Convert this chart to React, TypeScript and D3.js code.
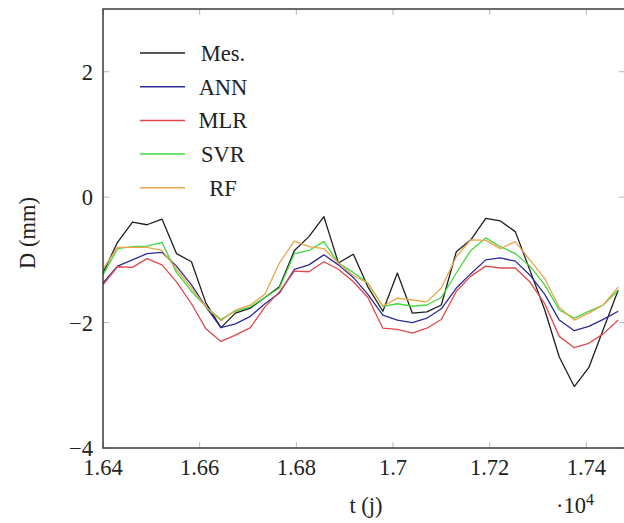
import React from "react";
import * as d3 from "d3";

const tDays = [16400, 16430, 16461, 16491, 16522, 16552, 16583, 16613, 16644, 16674, 16705, 16735, 16765, 16796, 16826, 16857, 16887, 16918, 16948, 16979, 17009, 17040, 17070, 17100, 17131, 17161, 17192, 17222, 17253, 17283, 17314, 17344, 17375, 17405, 17435, 17466];

const mes = [-1.21, -0.72, -0.4, -0.44, -0.35, -0.9, -1.03, -1.69, -2.08, -1.85, -1.77, -1.6, -1.43, -0.85, -0.63, -0.31, -1.05, -0.91, -1.43, -1.82, -1.21, -1.85, -1.83, -1.72, -0.87, -0.68, -0.34, -0.38, -0.55, -1.16, -1.8, -2.55, -3.02, -2.72, -2.11, -1.48];
const ann = [-1.37, -1.1, -1.0, -0.9, -0.88, -1.1, -1.4, -1.75, -2.08, -2.02, -1.9, -1.7, -1.53, -1.15, -1.08, -0.92, -1.08, -1.28, -1.55, -1.88, -1.96, -2.0, -1.93, -1.78, -1.45, -1.22, -1.0, -0.97, -1.02, -1.24, -1.55, -1.96, -2.13, -2.06, -1.95, -1.82];
const mlr = [-1.4, -1.11, -1.12, -0.98, -1.08, -1.35, -1.7, -2.1, -2.3, -2.2, -2.08, -1.75, -1.51, -1.18, -1.19, -1.03, -1.15, -1.35, -1.6, -2.09, -2.11, -2.17, -2.09, -1.95, -1.5, -1.26, -1.1, -1.13, -1.13, -1.35, -1.7, -2.22, -2.4, -2.33, -2.18, -1.96];
const svr = [-1.24, -0.82, -0.79, -0.78, -0.72, -1.2, -1.5, -1.75, -1.95, -1.82, -1.75, -1.6, -1.45, -0.9, -0.85, -0.71, -1.05, -1.2, -1.37, -1.74, -1.7, -1.74, -1.72, -1.6, -1.21, -0.85, -0.65, -0.79, -0.9, -1.1, -1.4, -1.8, -1.93, -1.82, -1.72, -1.48];
const rf = [-1.15, -0.8, -0.8, -0.8, -0.85, -1.15, -1.45, -1.75, -1.97, -1.8, -1.72, -1.55, -1.05, -0.7, -0.79, -0.82, -1.05, -1.25, -1.37, -1.74, -1.61, -1.64, -1.67, -1.45, -0.95, -0.68, -0.69, -0.82, -0.71, -1.0, -1.3, -1.76, -1.96, -1.85, -1.72, -1.43];

const seriesNames = ["Mes.", "ANN", "MLR", "SVR", "RF"];
const seriesValues = [mes, ann, mlr, svr, rf];
const seriesColors = ["#1e1e1e", "#2c2c96", "#e0484c", "#3fd83f", "#e8a54c"];

const xTicks = [1.64, 1.66, 1.68, 1.7, 1.72, 1.74];
const xTickLabels = ["1.64", "1.66", "1.68", "1.7", "1.72", "1.74"];
const yTicks = [-4, -2, 0, 2];
const yTickLabels = ["\u22124", "\u22122", "0", "2"];

const FONT = "Times New Roman, Tinos, Liberation Serif, DejaVu Serif, Noto Serif, Times, serif";

export default function App() {
  const left = 103, right = 625, top = 9, bottom = 448;
  const x = d3.scaleLinear().domain([1.64, 1.748]).range([left, right]);
  const y = d3.scaleLinear().domain([-4, 3]).range([bottom, top]);
  const line = d3
    .line<[number, number]>()
    .x((d) => x(d[0] / 10000))
    .y((d) => y(d[1]));

  const T = (props: any) => (
    <text fontFamily={FONT} fontSize={22.5} fill="#222" {...props} />
  );

  return (
    <svg
      width={624}
      height={523}
      style={{ position: "absolute", left: 0, top: 0, background: "#fff", fontFamily: FONT }}
    >
      <defs>
        <clipPath id="plotclip">
          <rect x={left} y={top} width={right - left} height={bottom - top} />
        </clipPath>
      </defs>
      {xTicks.map((t, i) => (
        <g key={"xt" + i} stroke="#b8b8b8" strokeWidth={1}>
          <line x1={x(t)} x2={x(t)} y1={bottom} y2={bottom - 6} />
          <line x1={x(t)} x2={x(t)} y1={top} y2={top + 6} />
        </g>
      ))}
      {yTicks.map((t, i) => (
        <g key={"yt" + i} stroke="#b8b8b8" strokeWidth={1}>
          <line x1={left} x2={left + 6} y1={y(t)} y2={y(t)} />
          <line x1={right} x2={right - 6} y1={y(t)} y2={y(t)} />
        </g>
      ))}
      <g clipPath="url(#plotclip)">
        {seriesValues.map((vals, si) => (
          <path
            key={seriesNames[si]}
            d={line(vals.map((v, i) => [tDays[i], v] as [number, number])) || ""}
            fill="none"
            stroke={seriesColors[si]}
            strokeWidth={1.3}
            strokeLinejoin="round"
          />
        ))}
      </g>
      <rect
        x={left}
        y={top}
        width={right - left}
        height={bottom - top}
        fill="none"
        stroke="#3a3a3a"
        strokeWidth={1.5}
      />
      {xTicks.map((t, i) => (
        <T key={"xl" + i} x={x(t)} y={475} textAnchor="middle">
          {xTickLabels[i]}
        </T>
      ))}
      {yTicks.map((t, i) => (
        <T key={"yl" + i} x={93} y={y(t) + 8} textAnchor="end">
          {yTickLabels[i]}
        </T>
      ))}
      <T x={366} y={513} textAnchor="middle">
        t (j)
      </T>
      <T x={556} y={513}>
        {"\u00b710"}
        <tspan dy={-8} fontSize={16}>
          4
        </tspan>
      </T>
      <T transform={`translate(35, 233) rotate(-90)`} textAnchor="middle">
        D (mm)
      </T>
      {seriesNames.map((name, i) => {
        const ly = 53 + i * 33.7;
        return (
          <g key={"lg" + i}>
            <line
              x1={140}
              x2={185}
              y1={ly}
              y2={ly}
              stroke={seriesColors[i]}
              strokeWidth={1.5}
            />
            <T x={223} y={ly + 8} textAnchor="middle">
              {name}
            </T>
          </g>
        );
      })}
    </svg>
  );
}
